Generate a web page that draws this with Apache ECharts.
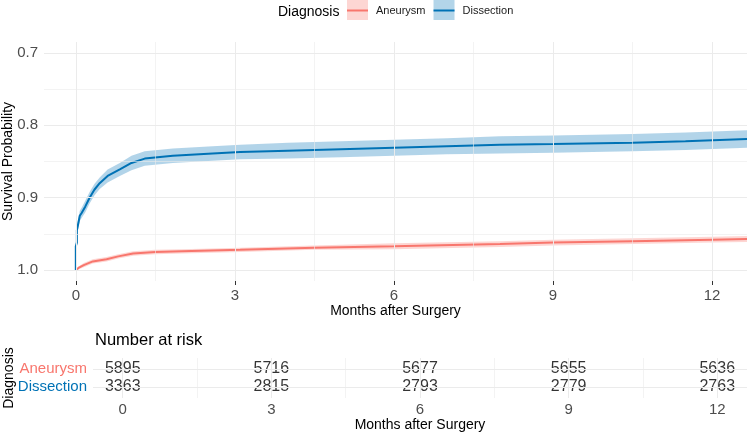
<!DOCTYPE html>
<html>
<head>
<meta charset="utf-8">
<script src="https://cdn.jsdelivr.net/npm/echarts@6/dist/echarts.min.js"></script>
<style>
  html, body { margin: 0; padding: 0; background: #fff; }
  #chart { width: 747px; height: 434px; }
</style>
</head>
<body>
<div id="chart"></div>
<script>
// survival curves, time in months
var dissTime = [0, 0, 0.02, 0.02, 0.04, 0.075, 0.11, 0.18, 0.26, 0.35, 0.45, 0.6, 0.83, 1.05, 1.3, 1.83, 2.58, 3.1, 4, 5, 6, 7, 8, 9, 10.5, 11.5, 12.66]
var dissSurv = [1.0, 0.967, 0.962, 0.945, 0.938, 0.925, 0.921, 0.912, 0.900, 0.889, 0.880, 0.870, 0.861, 0.852, 0.846, 0.842, 0.839, 0.837, 0.835, 0.833, 0.831, 0.829, 0.827, 0.826, 0.824, 0.822, 0.819]
var dissLower = [1.0, 0.961, 0.956, 0.939, 0.931, 0.918, 0.914, 0.904, 0.892, 0.881, 0.872, 0.861, 0.852, 0.842, 0.836, 0.832, 0.829, 0.827, 0.824, 0.822, 0.820, 0.818, 0.815, 0.814, 0.812, 0.810, 0.807]
var dissUpper = [1.0, 0.973, 0.968, 0.951, 0.945, 0.932, 0.928, 0.920, 0.908, 0.897, 0.888, 0.879, 0.870, 0.862, 0.856, 0.852, 0.849, 0.847, 0.846, 0.844, 0.842, 0.840, 0.839, 0.838, 0.836, 0.834, 0.831]

var aneuTime = [0, 0.05, 0.15, 0.32, 0.58, 0.8, 1.08, 1.5, 2.0, 3.1, 4.5, 6, 8, 9, 10.5, 12, 12.66]
var aneuSurv = [1.0, 0.997, 0.993, 0.988, 0.985, 0.981, 0.977, 0.975, 0.974, 0.972, 0.969, 0.967, 0.964, 0.962, 0.960, 0.958, 0.957]
var aneuLower = [1.0, 0.995, 0.990, 0.985, 0.982, 0.978, 0.974, 0.972, 0.971, 0.969, 0.966, 0.963, 0.960, 0.958, 0.956, 0.954, 0.953]
var aneuUpper = [1.0, 0.999, 0.996, 0.991, 0.988, 0.984, 0.980, 0.978, 0.977, 0.975, 0.972, 0.971, 0.968, 0.966, 0.964, 0.962, 0.961]

// number at risk table
var riskTimes = [0, 3, 6, 9, 12]
var riskAneurysm = [5895, 5716, 5677, 5655, 5636]
var riskDissection = [3363, 2815, 2793, 2779, 2763]
var groups = ['Aneurysm', 'Dissection']

// ticks
var xTicks = [0, 3, 6, 9, 12]
var xMinor = [1.5, 4.5, 7.5, 10.5]
var yTicks = [0.7, 0.8, 0.9, 1.0]
var yMinor = [0.75, 0.85, 0.95]

var RED = '#F8766D'
var BLUE = '#0072B5'
var GRID = '#EBEBEB'

function pairs(xs, ys) {
  return xs.map(function (x, i) { return [x, ys[i]] })
}
function vLines(vals, w) {
  return vals.map(function (v) { return { xAxis: v, lineStyle: { color: GRID, width: w, type: 'solid' } } })
}
function hLines(vals, w) {
  return vals.map(function (v) { return { yAxis: v, lineStyle: { color: GRID, width: w, type: 'solid' } } })
}
function gridLines(idx, lines) {
  return {
    name: 'gridlines' + idx,
    type: 'line',
    xAxisIndex: idx,
    yAxisIndex: idx,
    data: [],
    z: 0,
    silent: true,
    markLine: { silent: true, symbol: ['none', 'none'], label: { show: false }, data: lines }
  }
}
// confidence band as one polygon, drawn on the first item
function bandSeries(name, xs, lo, hi, fill) {
  return {
    name: name,
    type: 'custom',
    xAxisIndex: 0,
    yAxisIndex: 0,
    silent: true,
    z: 1,
    data: xs.map(function (x, i) { return [x, lo[i], hi[i]] }),
    renderItem: function (params, api) {
      if (params.dataIndex !== 0) return null
      var pts = []
      xs.forEach(function (x, i) { pts.push(api.coord([x, hi[i]])) })
      for (var i = xs.length - 1; i >= 0; i--) pts.push(api.coord([xs[i], lo[i]]))
      return {
        type: 'polygon',
        shape: { points: pts },
        style: { fill: fill },
        clipPath: {
          type: 'rect',
          shape: { x: params.coordSys.x, y: params.coordSys.y, width: params.coordSys.width, height: params.coordSys.height }
        }
      }
    }
  }
}

var chart = echarts.init(document.getElementById('chart'))

var legendText = { fontSize: 11, padding: [0, 0, 0, 3] }

chart.setOption({
  animation: false,
  backgroundColor: '#fff',
  textStyle: { fontFamily: 'Liberation Sans, Arial, sans-serif' },
  title: [{
    text: 'Diagnosis',
    left: 278,
    top: 5,
    padding: 0,
    textStyle: { fontSize: 14, fontWeight: 'normal', color: '#000' }
  }, {
    text: 'Number at risk',
    left: 95,
    top: 332,
    padding: 0,
    textStyle: { fontSize: 16.5, fontWeight: 'normal', color: '#000' }
  }],
  // legend = light box + dark line drawn on top
  legend: [{
    left: 347,
    top: 0,
    padding: 0,
    icon: 'rect',
    itemWidth: 21,
    itemHeight: 20,
    itemGap: 8,
    selectedMode: false,
    textStyle: Object.assign({ color: 'rgba(0,0,0,0)' }, legendText),
    data: [
      { name: 'Aneurysm', itemStyle: { color: '#FDD6D3', borderWidth: 0 } },
      { name: 'Dissection', itemStyle: { color: '#B3D5E9', borderWidth: 0 } }
    ]
  }, {
    left: 347,
    top: 5,
    padding: 0,
    icon: 'rect',
    itemWidth: 21,
    itemHeight: 2,
    itemGap: 8,
    selectedMode: false,
    textStyle: Object.assign({ color: '#1A1A1A' }, legendText),
    data: [
      { name: 'Aneurysm', itemStyle: { color: RED, borderWidth: 0 } },
      { name: 'Dissection', itemStyle: { color: BLUE, borderWidth: 0 } }
    ]
  }],
  grid: [
    { left: 44, right: 0, top: 42, bottom: 153, outerBoundsMode: 'none', containLabel: false },
    { left: 93, right: 0, top: 358, bottom: 36, outerBoundsMode: 'none', containLabel: false }
  ],
  xAxis: [{
    type: 'value',
    gridIndex: 0,
    min: -0.6,
    max: 12.66,
    name: 'Months after Surgery',
    nameLocation: 'middle',
    nameGap: 23,
    nameMoveOverlap: false,
    nameTextStyle: { fontSize: 14, color: '#000' },
    axisLine: { show: false },
    axisTick: { show: true, customValues: xTicks, length: 4, lineStyle: { color: '#333' } },
    axisLabel: { customValues: xTicks, fontSize: 15, color: '#4D4D4D', margin: 7 },
    splitLine: { show: false }
  }, {
    type: 'value',
    gridIndex: 1,
    min: -0.6,
    max: 12.6,
    name: 'Months after Surgery',
    nameLocation: 'middle',
    nameGap: 20,
    nameMoveOverlap: false,
    nameTextStyle: { fontSize: 14, color: '#000' },
    axisLine: { show: false },
    axisTick: { show: false },
    axisLabel: { customValues: riskTimes, fontSize: 15, color: '#4D4D4D', margin: 4 },
    splitLine: { show: false }
  }],
  yAxis: [{
    type: 'value',
    gridIndex: 0,
    inverse: true,
    min: 0.685,
    max: 1.015,
    name: 'Survival Probability',
    nameLocation: 'middle',
    nameGap: 29,
    nameMoveOverlap: false,
    nameTextStyle: { fontSize: 14, color: '#000' },
    axisLine: { show: false },
    axisTick: { show: true, customValues: yTicks, length: 4, lineStyle: { color: '#333' } },
    axisLabel: {
      customValues: yTicks, fontSize: 15, color: '#4D4D4D', margin: 6,
      formatter: function (v) { return v.toFixed(1) }
    },
    splitLine: { show: false }
  }, {
    type: 'value',
    gridIndex: 1,
    inverse: true,
    min: 0.4,
    max: 2.6,
    name: 'Diagnosis',
    nameLocation: 'middle',
    nameGap: 77,
    nameMoveOverlap: false,
    nameTextStyle: { fontSize: 14, color: '#000' },
    axisLine: { show: false },
    axisTick: { show: false },
    axisLabel: {
      customValues: [1, 2],
      fontSize: 15,
      margin: 6,
      formatter: function (v) { return v === 1 ? '{a|' + groups[0] + '}' : '{d|' + groups[1] + '}' },
      rich: {
        a: { color: RED, fontSize: 15 },
        d: { color: BLUE, fontSize: 15 }
      }
    },
    splitLine: { show: false }
  }],
  series: [
    gridLines(0, vLines(xTicks, 1).concat(vLines(xMinor, 0.6), hLines(yTicks, 1), hLines(yMinor, 0.6))),
    gridLines(1, vLines(xTicks, 1).concat(vLines(xMinor, 0.6), hLines([1, 2], 1))),
    bandSeries('dissBand', dissTime, dissLower, dissUpper, 'rgba(0,114,181,0.3)'),
    bandSeries('aneuBand', aneuTime, aneuLower, aneuUpper, 'rgba(248,118,109,0.3)'),
    {
      name: 'Aneurysm',
      type: 'line',
      data: pairs(aneuTime, aneuSurv),
      symbol: 'none',
      color: RED,
      lineStyle: { width: 2, color: RED },
      z: 3
    },
    {
      name: 'Dissection',
      type: 'line',
      data: pairs(dissTime, dissSurv),
      symbol: 'none',
      color: BLUE,
      lineStyle: { width: 2, color: BLUE },
      z: 3
    },
    // number at risk
    {
      name: 'risk',
      type: 'scatter',
      xAxisIndex: 1,
      yAxisIndex: 1,
      symbolSize: 1,
      itemStyle: { color: 'rgba(0,0,0,0)' },
      silent: true,
      label: {
        show: true,
        position: 'inside',
        fontSize: 16,
        color: '#000',
        formatter: function (p) { return p.value[2] }
      },
      data: riskTimes.map(function (t, i) { return [t, 1, riskAneurysm[i]] })
        .concat(riskTimes.map(function (t, i) { return [t, 2, riskDissection[i]] })),
      z: 2
    }
  ]
})
</script>
</body>
</html>
